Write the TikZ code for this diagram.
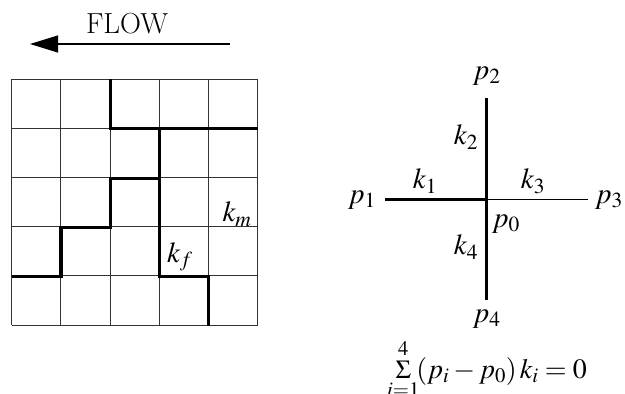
\documentclass[tikz,border=0pt]{standalone}
\usepackage{mathptmx}
\usetikzlibrary{arrows.meta}
\newcommand{\smallsigma}{\mathop{\mbox{\fontsize{26}{26}\selectfont$\Sigma$}}}
\begin{document}
\begin{tikzpicture}[x=1pt,y=-1pt,
  thin line/.style={line width=1pt,draw=black!80},
  thick line/.style={line width=3.2pt},
  lbl/.style={inner sep=0pt,font=\fontsize{29}{34}\selectfont}]
\useasboundingbox (0,0) rectangle (625,394);
% FLOW arrow
\node[lbl] (flow) at (127,24) {FLOW};
\coordinate (fs) at (230,44);
\coordinate (fe) at (30,44);
\draw[line width=1.2pt,-{Triangle[length=28pt,width=17pt]}] (fs) -- (fe);
% grid
\foreach \i in {0,...,5}{
  \draw[thin line] ({11.7+\i*49.2},79) -- ({11.7+\i*49.2},325);
  \draw[thin line] (11.7,{79+\i*49.2}) -- (257.7,{79+\i*49.2});
}
% thick fracture paths
\draw[thick line] (110.1,79) -- (110.1,128.2) -- (257.7,128.2);
\draw[thick line] (159.3,128.2) -- (159.3,276.6) -- (208.5,276.6) -- (208.5,325.8);
\draw[thick line] (11.7,276.6) -- (60.9,276.6) -- (60.9,227.4) -- (110.1,227.4) -- (110.1,178.2) -- (159.3,178.2);
\node[lbl] (km) at (237,214) {$k_m$};
\node[lbl] (kf) at (180,257) {$k_f$};
% cross
\coordinate (c0) at (486.7,199.3);
\coordinate (c1) at (385,199.3);
\coordinate (c3) at (588.3,199.3);
\coordinate (c2) at (486.7,98.3);
\coordinate (c4) at (486.7,300);
\draw[line width=1pt] (c0) -- (c3);
\draw[thick line] (c1) -- (c0);
\draw[thick line] (c2) -- (c4);
\node[lbl] (p2) at (486.7,76) {$p_2$};
\node[lbl] (p4) at (486.7,319) {$p_4$};
\node[lbl] (p1) at (362,200) {$p_1$};
\node[lbl] (p3) at (609,200) {$p_3$};
\node[lbl] (p0) at (506,224) {$p_0$};
\node[lbl] (k1) at (425,181) {$k_1$};
\node[lbl] (k3) at (533,181) {$k_3$};
\node[lbl] (k2) at (466,137) {$k_2$};
\node[lbl] (k4) at (466,247) {$k_4$};
\node[inner sep=0pt,anchor=base,font=\fontsize{28}{32}\selectfont] (eq) at (487,378) {$\smallsigma\limits_{i=1}^{4}\!(p_i-p_0)\,k_i=0$};
\end{tikzpicture}
\end{document}
